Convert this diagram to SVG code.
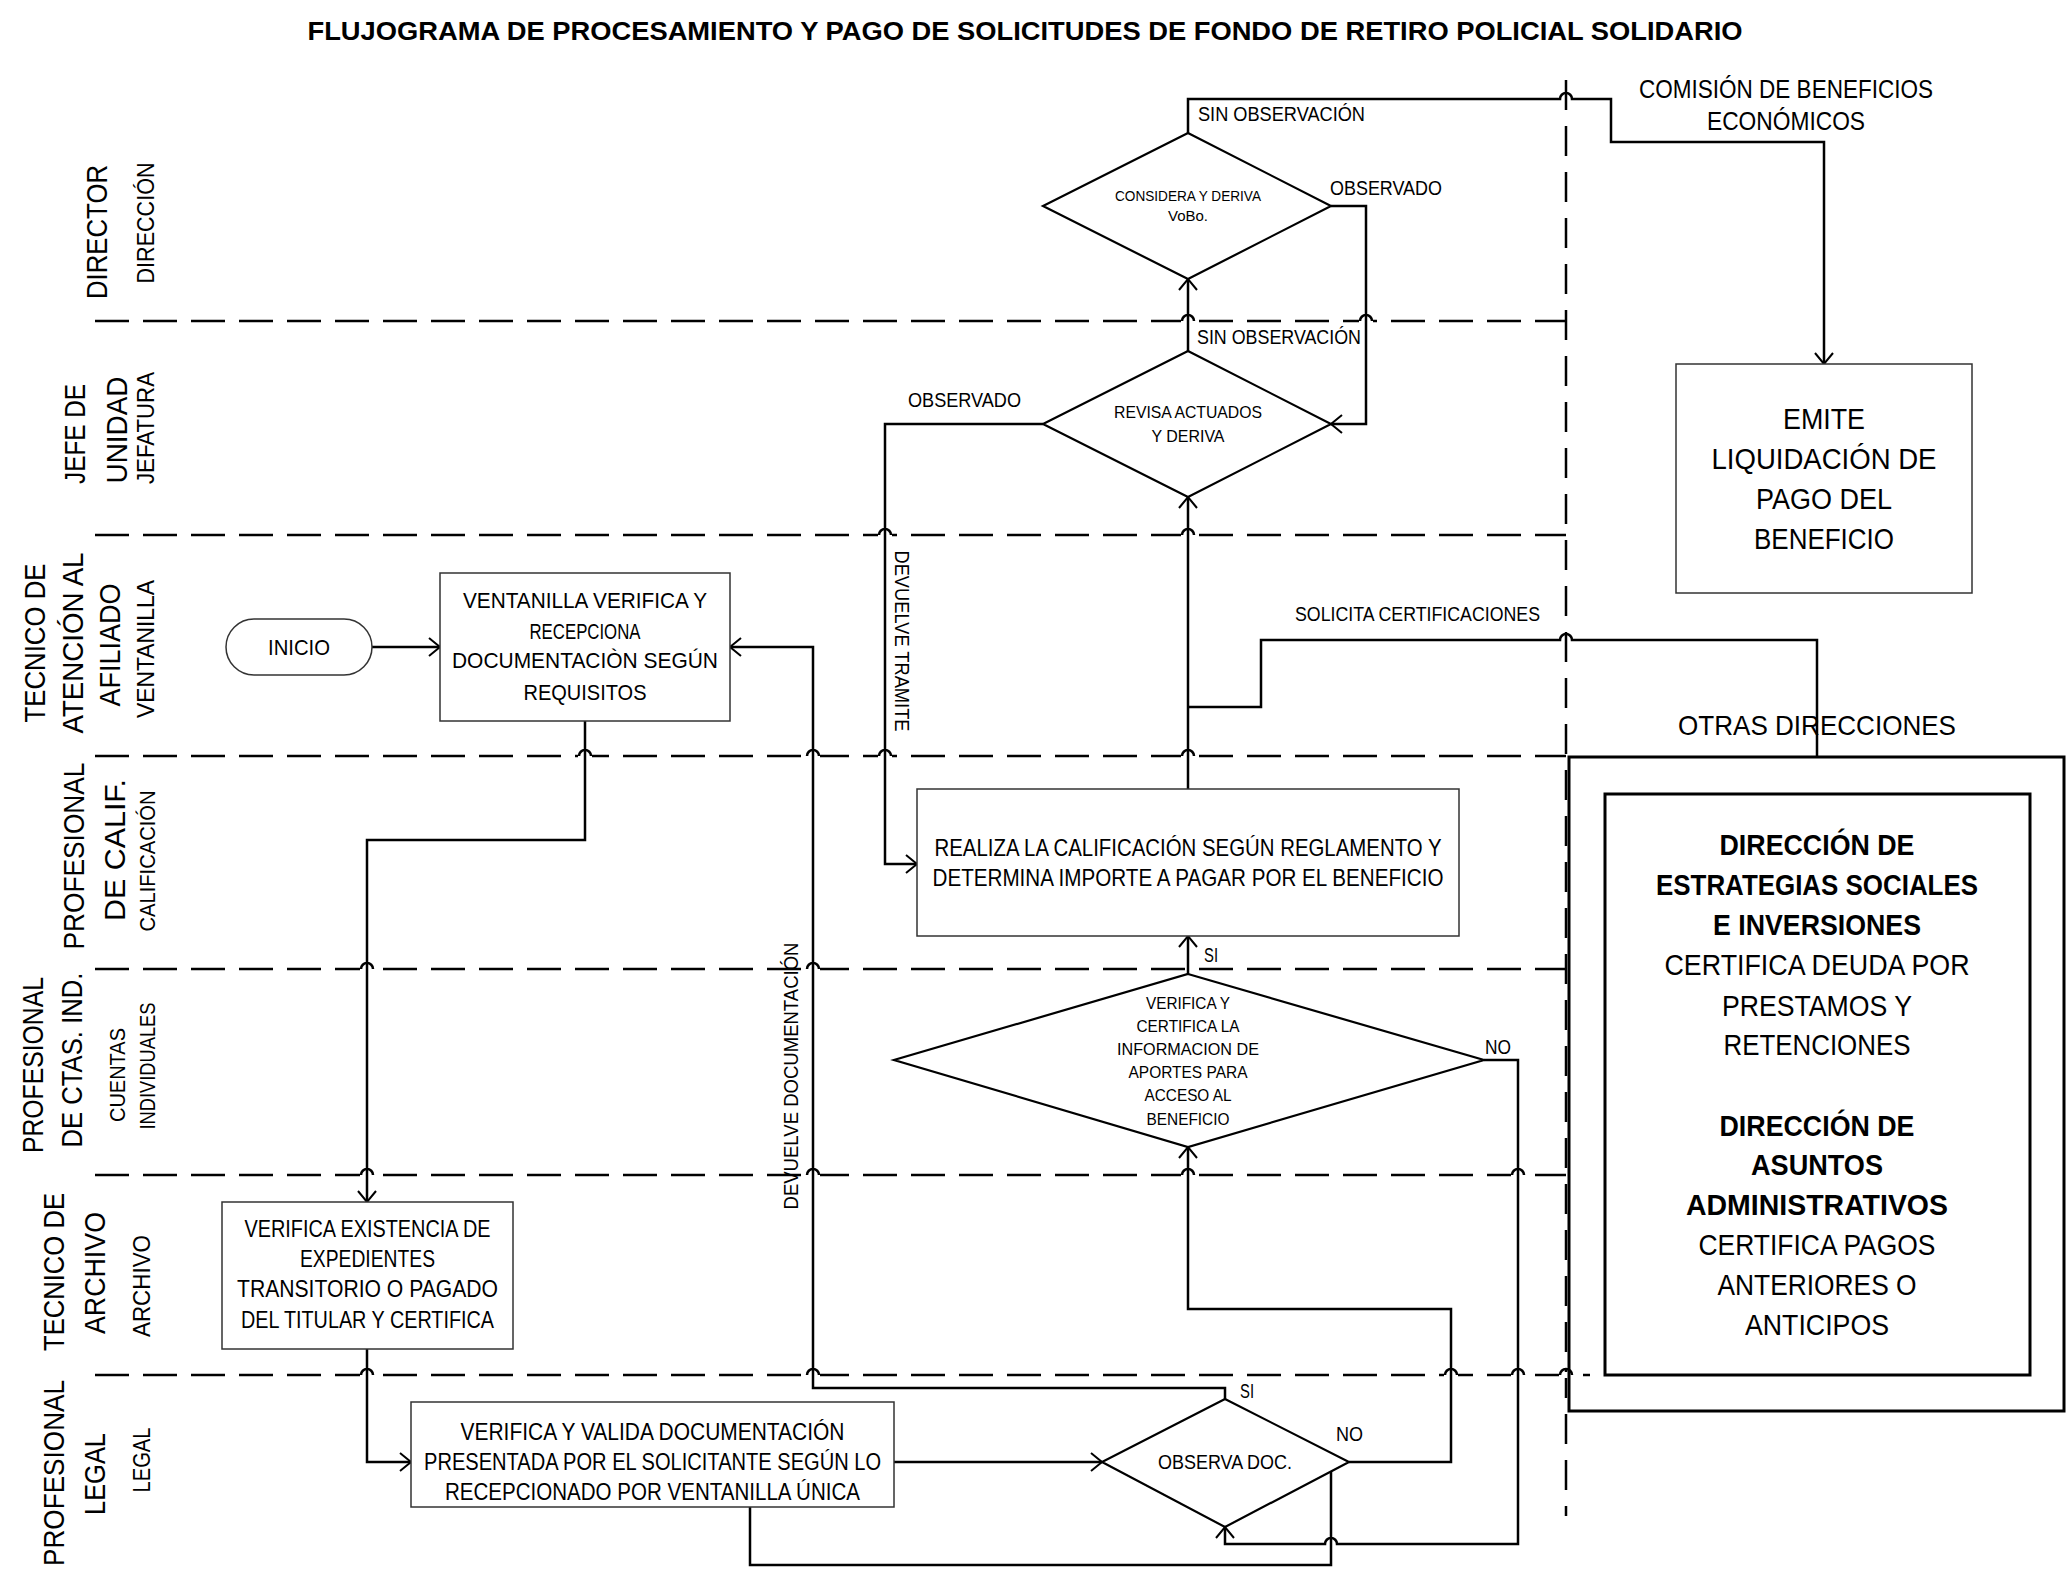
<svg xmlns="http://www.w3.org/2000/svg" width="2067" height="1588" viewBox="0 0 2067 1588">
<defs>
<style>
text{font-family:"Liberation Sans",Arial,sans-serif;fill:#000;text-anchor:middle}
.st{text-anchor:start}
.ttl{font-size:25px;font-weight:bold}
.big{font-size:30px}
.sm{font-size:24px}
.xs{font-size:22px}
.bx{font-size:23px}
.dt{font-size:17px}
.lbl{font-size:20px}
.rb{font-size:29px}
.rbb{font-size:29px;font-weight:bold}
.box{fill:#fff;stroke:#333;stroke-width:1.5}
.dia{fill:#fff;stroke:#000;stroke-width:2.2}
.sep{fill:none;stroke:#000;stroke-width:2.5;stroke-dasharray:34 14}
.vsep{fill:none;stroke:#000;stroke-width:2.5;stroke-dasharray:30 16}
.con{fill:none;stroke:#000;stroke-width:2.5}
.arr{marker-end:url(#ah)}
.mask{fill:#fff}
.hop{fill:none;stroke:#000;stroke-width:2.5}
.thick{fill:none;stroke:#000;stroke-width:3}
</style>
<marker id="ah" viewBox="0 0 12 18" refX="11" refY="9" markerWidth="12" markerHeight="18" markerUnits="userSpaceOnUse" orient="auto" overflow="visible">
<path d="M0,0 L11,9 L0,18" fill="none" stroke="#000" stroke-width="2"/>
</marker>
</defs>
<rect x="0" y="0" width="2067" height="1588" fill="#fff"/>

<text class="ttl" x="1025" y="40" textLength="1435" lengthAdjust="spacingAndGlyphs">FLUJOGRAMA DE PROCESAMIENTO Y PAGO DE SOLICITUDES DE FONDO DE RETIRO POLICIAL SOLIDARIO</text>

<g id="lanes">
<path class="sep" d="M95,321 H1566"/>
<path class="sep" d="M95,535 H1566"/>
<path class="sep" d="M95,756 H1566"/>
<path class="sep" d="M95,969 H1566"/>
<path class="sep" d="M95,1175 H1566"/>
<path class="sep" d="M95,1375 H1590"/>
<path class="vsep" d="M1566,80 V1516"/>
</g>

<g id="lane-labels">
<text class="big" transform="translate(107,232) rotate(-90)" textLength="134" lengthAdjust="spacingAndGlyphs">DIRECTOR</text>
<text class="sm" transform="translate(154,223) rotate(-90)" textLength="121" lengthAdjust="spacingAndGlyphs">DIRECCIÓN</text>
<text class="big" transform="translate(85,434) rotate(-90)" textLength="100" lengthAdjust="spacingAndGlyphs">JEFE DE</text>
<text class="big" transform="translate(127,430) rotate(-90)" textLength="107" lengthAdjust="spacingAndGlyphs">UNIDAD</text>
<text class="sm" transform="translate(154,428) rotate(-90)" textLength="112" lengthAdjust="spacingAndGlyphs">JEFATURA</text>
<text class="big" transform="translate(45,643) rotate(-90)" textLength="159" lengthAdjust="spacingAndGlyphs">TECNICO DE</text>
<text class="big" transform="translate(83,643) rotate(-90)" textLength="181" lengthAdjust="spacingAndGlyphs">ATENCIÓN AL</text>
<text class="big" transform="translate(120,645) rotate(-90)" textLength="123" lengthAdjust="spacingAndGlyphs">AFILIADO</text>
<text class="sm" transform="translate(154,649) rotate(-90)" textLength="138" lengthAdjust="spacingAndGlyphs">VENTANILLA</text>
<text class="big" transform="translate(84,856) rotate(-90)" textLength="187" lengthAdjust="spacingAndGlyphs">PROFESIONAL</text>
<text class="big" transform="translate(125,850) rotate(-90)" textLength="142" lengthAdjust="spacingAndGlyphs">DE CALIF.</text>
<text class="xs" transform="translate(155,861) rotate(-90)" textLength="141" lengthAdjust="spacingAndGlyphs">CALIFICACIÓN</text>
<text class="big" transform="translate(43,1065) rotate(-90)" textLength="176" lengthAdjust="spacingAndGlyphs">PROFESIONAL</text>
<text class="big" transform="translate(82,1060) rotate(-90)" textLength="175" lengthAdjust="spacingAndGlyphs">DE CTAS. IND.</text>
<text class="xs" transform="translate(125,1075) rotate(-90)" textLength="94" lengthAdjust="spacingAndGlyphs">CUENTAS</text>
<text class="xs" transform="translate(155,1066) rotate(-90)" textLength="127" lengthAdjust="spacingAndGlyphs">INDIVIDUALES</text>
<text class="big" transform="translate(64,1272) rotate(-90)" textLength="158" lengthAdjust="spacingAndGlyphs">TECNICO DE</text>
<text class="big" transform="translate(105,1273) rotate(-90)" textLength="122" lengthAdjust="spacingAndGlyphs">ARCHIVO</text>
<text class="sm" transform="translate(150,1286) rotate(-90)" textLength="102" lengthAdjust="spacingAndGlyphs">ARCHIVO</text>
<text class="big" transform="translate(64,1473) rotate(-90)" textLength="186" lengthAdjust="spacingAndGlyphs">PROFESIONAL</text>
<text class="big" transform="translate(105,1474) rotate(-90)" textLength="82" lengthAdjust="spacingAndGlyphs">LEGAL</text>
<text class="sm" transform="translate(150,1460) rotate(-90)" textLength="65" lengthAdjust="spacingAndGlyphs">LEGAL</text>
</g>

<g id="hop-masks">
<rect class="mask" x="1181" y="318" width="14" height="6"/>
<rect class="mask" x="1359" y="318" width="14" height="6"/>
<rect class="mask" x="878" y="532" width="14" height="6"/>
<rect class="mask" x="1181" y="532" width="14" height="6"/>
<rect class="mask" x="578" y="753" width="14" height="6"/>
<rect class="mask" x="806" y="753" width="14" height="6"/>
<rect class="mask" x="878" y="753" width="14" height="6"/>
<rect class="mask" x="1181" y="753" width="14" height="6"/>
<rect class="mask" x="360" y="966" width="14" height="6"/>
<rect class="mask" x="806" y="966" width="14" height="6"/>
<rect class="mask" x="360" y="1172" width="14" height="6"/>
<rect class="mask" x="806" y="1172" width="14" height="6"/>
<rect class="mask" x="1181" y="1172" width="14" height="6"/>
<rect class="mask" x="1511" y="1172" width="14" height="6"/>
<rect class="mask" x="360" y="1372" width="14" height="6"/>
<rect class="mask" x="806" y="1372" width="14" height="6"/>
<rect class="mask" x="1444" y="1372" width="14" height="6"/>
<rect class="mask" x="1511" y="1372" width="14" height="6"/>
<rect class="mask" x="1559" y="1372" width="14" height="6"/>
</g>

<g id="connectors">
<path class="con arr" d="M372,647 H440"/>
<path class="con arr" d="M585,721 V840 H367 V1202"/>
<path class="con arr" d="M367,1349 V1462 H411"/>
<path class="con arr" d="M894,1462 H1102"/>
<path class="con arr" d="M1225,1399 V1388 H813 V647 H730"/>
<path class="con arr" d="M1349,1462 H1451 V1309 H1188 V1147"/>
<path class="con" d="M750,1507 V1565 H1331 V1471"/>
<path class="con arr" d="M1484,1060 H1518 V1544 H1337 a6,6 0 0 0 -12,0 H1225 V1527"/>
<path class="con arr" d="M1188,974 V936"/>
<path class="con arr" d="M1188,789 V497"/>
<path class="con" d="M1188,707 H1261 V640 H1560 a6,6 0 0 1 12,0 H1817 V758"/>
<path class="con arr" d="M1043,424 H885 V864 H917"/>
<path class="con arr" d="M1188,351 V279"/>
<path class="con arr" d="M1331,206 H1366 V424 H1331"/>
<path class="con arr" d="M1188,133 V99 H1560 a6,6 0 0 1 12,0 H1611 V142 H1824 V364"/>
</g>

<g id="hops">
<path class="hop" d="M1182,321 a6,6 0 0 1 12,0 M1360,321 a6,6 0 0 1 12,0 M879,535 a6,6 0 0 1 12,0 M1182,535 a6,6 0 0 1 12,0 M579,756 a6,6 0 0 1 12,0 M807,756 a6,6 0 0 1 12,0 M879,756 a6,6 0 0 1 12,0 M1182,756 a6,6 0 0 1 12,0 M361,969 a6,6 0 0 1 12,0 M807,969 a6,6 0 0 1 12,0 M361,1175 a6,6 0 0 1 12,0 M807,1175 a6,6 0 0 1 12,0 M1182,1175 a6,6 0 0 1 12,0 M1512,1175 a6,6 0 0 1 12,0 M361,1375 a6,6 0 0 1 12,0 M807,1375 a6,6 0 0 1 12,0 M1445,1375 a6,6 0 0 1 12,0 M1512,1375 a6,6 0 0 1 12,0 M1560,1375 a6,6 0 0 1 12,0"/>
</g>

<g id="connector-labels">
<text class="lbl st" x="1198" y="121" textLength="167" lengthAdjust="spacingAndGlyphs">SIN OBSERVACIÓN</text>
<text class="lbl st" x="1330" y="195" textLength="112" lengthAdjust="spacingAndGlyphs">OBSERVADO</text>
<text class="lbl st" x="1197" y="344" textLength="164" lengthAdjust="spacingAndGlyphs">SIN OBSERVACIÓN</text>
<text class="lbl st" x="908" y="407" textLength="113" lengthAdjust="spacingAndGlyphs">OBSERVADO</text>
<text class="lbl st" x="1295" y="621" textLength="245" lengthAdjust="spacingAndGlyphs">SOLICITA CERTIFICACIONES</text>
<text class="lbl st" x="1204" y="962" textLength="14" lengthAdjust="spacingAndGlyphs">SI</text>
<text class="lbl st" x="1485" y="1054" textLength="26" lengthAdjust="spacingAndGlyphs">NO</text>
<text class="lbl st" x="1240" y="1398" textLength="14" lengthAdjust="spacingAndGlyphs">SI</text>
<text class="lbl st" x="1336" y="1441" textLength="27" lengthAdjust="spacingAndGlyphs">NO</text>
<text class="lbl" transform="translate(798,1076) rotate(-90)" textLength="267" lengthAdjust="spacingAndGlyphs">DEVUELVE DOCUMENTACIÓN</text>
<text class="lbl" transform="translate(895,641) rotate(90)" textLength="181" lengthAdjust="spacingAndGlyphs">DEVUELVE TRAMITE</text>
</g>

<g id="n-inicio">
<rect x="226" y="619" width="146" height="56" rx="28" class="box"/>
<text class="xs" x="299" y="655" textLength="62" lengthAdjust="spacingAndGlyphs">INICIO</text>
</g>

<g id="n-ventanilla">
<rect x="440" y="573" width="290" height="148" class="box"/>
<text class="xs" x="585" y="608" textLength="244" lengthAdjust="spacingAndGlyphs">VENTANILLA VERIFICA Y</text>
<text class="xs" x="585" y="639" textLength="111" lengthAdjust="spacingAndGlyphs">RECEPCIONA</text>
<text class="xs" x="585" y="668" textLength="266" lengthAdjust="spacingAndGlyphs">DOCUMENTACIÒN SEGÚN</text>
<text class="xs" x="585" y="700" textLength="123" lengthAdjust="spacingAndGlyphs">REQUISITOS</text>
</g>

<g id="n-archivo">
<rect x="222" y="1202" width="291" height="147" class="box"/>
<text class="bx" x="367.5" y="1237" textLength="246" lengthAdjust="spacingAndGlyphs">VERIFICA EXISTENCIA DE</text>
<text class="bx" x="367.5" y="1267" textLength="135" lengthAdjust="spacingAndGlyphs">EXPEDIENTES</text>
<text class="bx" x="367.5" y="1297" textLength="261" lengthAdjust="spacingAndGlyphs">TRANSITORIO O  PAGADO</text>
<text class="bx" x="367.5" y="1328" textLength="253" lengthAdjust="spacingAndGlyphs">DEL TITULAR Y CERTIFICA</text>
</g>

<g id="n-valida">
<rect x="411" y="1402" width="483" height="105" class="box"/>
<text class="bx" x="652.5" y="1440" textLength="384" lengthAdjust="spacingAndGlyphs">VERIFICA Y VALIDA DOCUMENTACIÓN</text>
<text class="bx" x="652.5" y="1470" textLength="457" lengthAdjust="spacingAndGlyphs">PRESENTADA POR EL SOLICITANTE SEGÚN LO</text>
<text class="bx" x="652.5" y="1500" textLength="415" lengthAdjust="spacingAndGlyphs">RECEPCIONADO POR VENTANILLA ÚNICA</text>
</g>

<g id="n-observa">
<polygon points="1225,1399 1349,1462 1225,1527 1102,1462" class="dia"/>
<text class="lbl" x="1225" y="1469" textLength="134" lengthAdjust="spacingAndGlyphs">OBSERVA DOC.</text>
</g>

<g id="n-verifica-aportes">
<polygon points="1188,974 1484,1060 1188,1147 894,1060" class="dia"/>
<text class="dt" x="1188" y="1009" textLength="84" lengthAdjust="spacingAndGlyphs">VERIFICA Y</text>
<text class="dt" x="1188" y="1032" textLength="103" lengthAdjust="spacingAndGlyphs">CERTIFICA LA</text>
<text class="dt" x="1188" y="1055" textLength="142" lengthAdjust="spacingAndGlyphs">INFORMACION DE</text>
<text class="dt" x="1188" y="1078" textLength="119" lengthAdjust="spacingAndGlyphs">APORTES PARA</text>
<text class="dt" x="1188" y="1101" textLength="87" lengthAdjust="spacingAndGlyphs">ACCESO AL</text>
<text class="dt" x="1188" y="1125" textLength="83" lengthAdjust="spacingAndGlyphs">BENEFICIO</text>
</g>

<g id="n-calificacion">
<rect x="917" y="789" width="542" height="147" class="box"/>
<text class="sm" x="1188" y="856" textLength="507" lengthAdjust="spacingAndGlyphs">REALIZA LA CALIFICACIÓN SEGÚN REGLAMENTO Y</text>
<text class="sm" x="1188" y="886" textLength="511" lengthAdjust="spacingAndGlyphs">DETERMINA IMPORTE A PAGAR POR EL BENEFICIO</text>
</g>

<g id="n-revisa">
<polygon points="1188,351 1331,424 1188,497 1043,424" class="dia"/>
<text class="dt" x="1188" y="418" textLength="148" lengthAdjust="spacingAndGlyphs">REVISA ACTUADOS</text>
<text class="dt" x="1188" y="442" textLength="73" lengthAdjust="spacingAndGlyphs">Y DERIVA</text>
</g>

<g id="n-considera">
<polygon points="1188,133 1331,206 1188,279 1043,206" class="dia"/>
<text x="1188" y="201" style="font-size:15px" textLength="146" lengthAdjust="spacingAndGlyphs">CONSIDERA Y DERIVA</text>
<text x="1188" y="221" style="font-size:15px" textLength="40" lengthAdjust="spacingAndGlyphs">VoBo.</text>
</g>

<g id="n-comision">
<text x="1786" y="98" style="font-size:25px" textLength="294" lengthAdjust="spacingAndGlyphs">COMISIÓN DE BENEFICIOS</text>
<text x="1786" y="130" style="font-size:25px" textLength="158" lengthAdjust="spacingAndGlyphs">ECONÓMICOS</text>
</g>

<g id="n-emite">
<rect x="1676" y="364" width="296" height="229" class="box"/>
<text class="rb" x="1824" y="429" textLength="82" lengthAdjust="spacingAndGlyphs">EMITE</text>
<text class="rb" x="1824" y="469" textLength="225" lengthAdjust="spacingAndGlyphs">LIQUIDACIÓN DE</text>
<text class="rb" x="1824" y="509" textLength="136" lengthAdjust="spacingAndGlyphs">PAGO DEL</text>
<text class="rb" x="1824" y="549" textLength="140" lengthAdjust="spacingAndGlyphs">BENEFICIO</text>
</g>

<g id="n-otras-direcciones">
<text x="1817" y="735" style="font-size:28px" textLength="278" lengthAdjust="spacingAndGlyphs">OTRAS DIRECCIONES</text>
<rect x="1569" y="757" width="495" height="654" class="thick"/>
<rect x="1605" y="794" width="425" height="581" class="thick"/>
<text class="rbb" x="1817" y="855" textLength="195" lengthAdjust="spacingAndGlyphs">DIRECCIÓN DE</text>
<text class="rbb" x="1817" y="895" textLength="322" lengthAdjust="spacingAndGlyphs">ESTRATEGIAS SOCIALES</text>
<text class="rbb" x="1817" y="935" textLength="208" lengthAdjust="spacingAndGlyphs">E INVERSIONES</text>
<text class="rb" x="1817" y="975" textLength="305" lengthAdjust="spacingAndGlyphs">CERTIFICA DEUDA POR</text>
<text class="rb" x="1817" y="1016" textLength="190" lengthAdjust="spacingAndGlyphs">PRESTAMOS Y</text>
<text class="rb" x="1817" y="1055" textLength="187" lengthAdjust="spacingAndGlyphs">RETENCIONES</text>
<text class="rbb" x="1817" y="1136" textLength="195" lengthAdjust="spacingAndGlyphs">DIRECCIÓN DE</text>
<text class="rbb" x="1817" y="1175" textLength="132" lengthAdjust="spacingAndGlyphs">ASUNTOS</text>
<text class="rbb" x="1817" y="1215" textLength="262" lengthAdjust="spacingAndGlyphs">ADMINISTRATIVOS</text>
<text class="rb" x="1817" y="1255" textLength="237" lengthAdjust="spacingAndGlyphs">CERTIFICA PAGOS</text>
<text class="rb" x="1817" y="1295" textLength="199" lengthAdjust="spacingAndGlyphs">ANTERIORES O</text>
<text class="rb" x="1817" y="1335" textLength="144" lengthAdjust="spacingAndGlyphs">ANTICIPOS</text>
</g>
</svg>
